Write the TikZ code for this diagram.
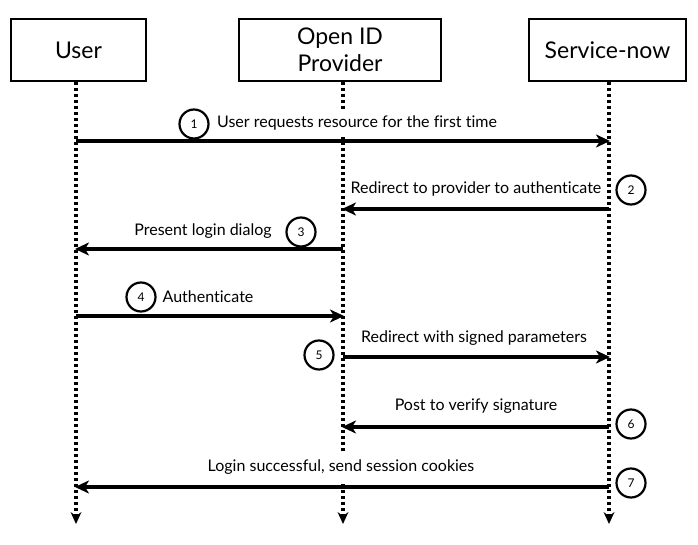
\documentclass[tikz,border=0pt]{standalone}
\usepackage{fontspec}
\setmainfont{Lato}[Ligatures={NoCommon}]
\usetikzlibrary{arrows.meta}
\begin{document}
\begin{tikzpicture}[x=1pt,y=-1pt,
  actor/.style={draw,line width=2.6pt,minimum height=62pt,align=center,inner sep=0pt,
    font=\fontsize{23}{27}\selectfont},
  life/.style={line width=3.4pt,dash pattern=on 3pt off 3pt,
    -{Stealth[length=12pt,width=11pt,line width=0pt]}},
  msg/.style={line width=3.6pt,-{Stealth[length=14pt,width=13pt,inset=4pt]},shorten >=-1pt},
  lbl/.style={fill=white,inner xsep=3pt,inner ysep=5pt,font=\fontsize{16}{19}\selectfont},
  num/.style={draw,circle,line width=2.2pt,minimum size=29pt,inner sep=0pt,fill=white,
    font=\fontsize{12}{13}\selectfont}]
\useasboundingbox (0,0) rectangle (698,545);
% actors
\node[actor,minimum width=135pt] (user) at (78.5,50) {User};
\node[actor,minimum width=202pt] (prov) at (340,50) {Open ID\\Provider};
\node[actor,minimum width=157pt] (serv) at (607.5,50) {Service-now};
% lifeline coordinates
\coordinate (ut) at (76,82);   \coordinate (ub) at (76,524);
\coordinate (pt) at (343,82);  \coordinate (pb) at (343,524);
\coordinate (st) at (609,82);  \coordinate (sb) at (609,524);
\draw[life] (ut) -- (ub);
\draw[life] (pt) -- (pb);
\draw[life] (st) -- (sb);
% message end points
\coordinate (u1) at (76,141);  \coordinate (s1) at (609,141);
\coordinate (s2) at (609,209); \coordinate (p2) at (343,209);
\coordinate (p3) at (343,249); \coordinate (u3) at (76,249);
\coordinate (u4) at (76,316);  \coordinate (p4) at (343,316);
\coordinate (p5) at (343,357); \coordinate (s5) at (609,357);
\coordinate (s6) at (609,427); \coordinate (p6) at (343,427);
\coordinate (s7) at (609,487); \coordinate (u7) at (76,487);
% labels
\node[lbl,inner ysep=7pt] (l1) at (357,123) {User requests resource for the first time};
\node[lbl] (l2) at (476,189) {Redirect to provider to authenticate};
\node[lbl] (l3) at (203,231) {Present login dialog};
\node[lbl] (l4) at (208,297) {Authenticate};
\node[lbl] (l5) at (474,338) {Redirect with signed parameters};
\node[lbl] (l6) at (476,406) {Post to verify signature};
\node[lbl,inner ysep=7pt] (l7) at (341,467) {Login successful, send session cookies};
% messages
\draw[msg] (u1) -- (s1);
\draw[msg] (s2) -- (p2);
\draw[msg] (p3) -- (u3);
\draw[msg] (u4) -- (p4);
\draw[msg] (p5) -- (s5);
\draw[msg] (s6) -- (p6);
\draw[msg] (s7) -- (u7);
% numbers
\node[num] (n1) at (194,124) {1};
\node[num] (n2) at (631,190) {2};
\node[num] (n3) at (301,232) {3};
\node[num] (n4) at (141,297) {4};
\node[num] (n5) at (319,355) {5};
\node[num] (n6) at (631,424) {6};
\node[num] (n7) at (631,483) {7};
\end{tikzpicture}
\end{document}
